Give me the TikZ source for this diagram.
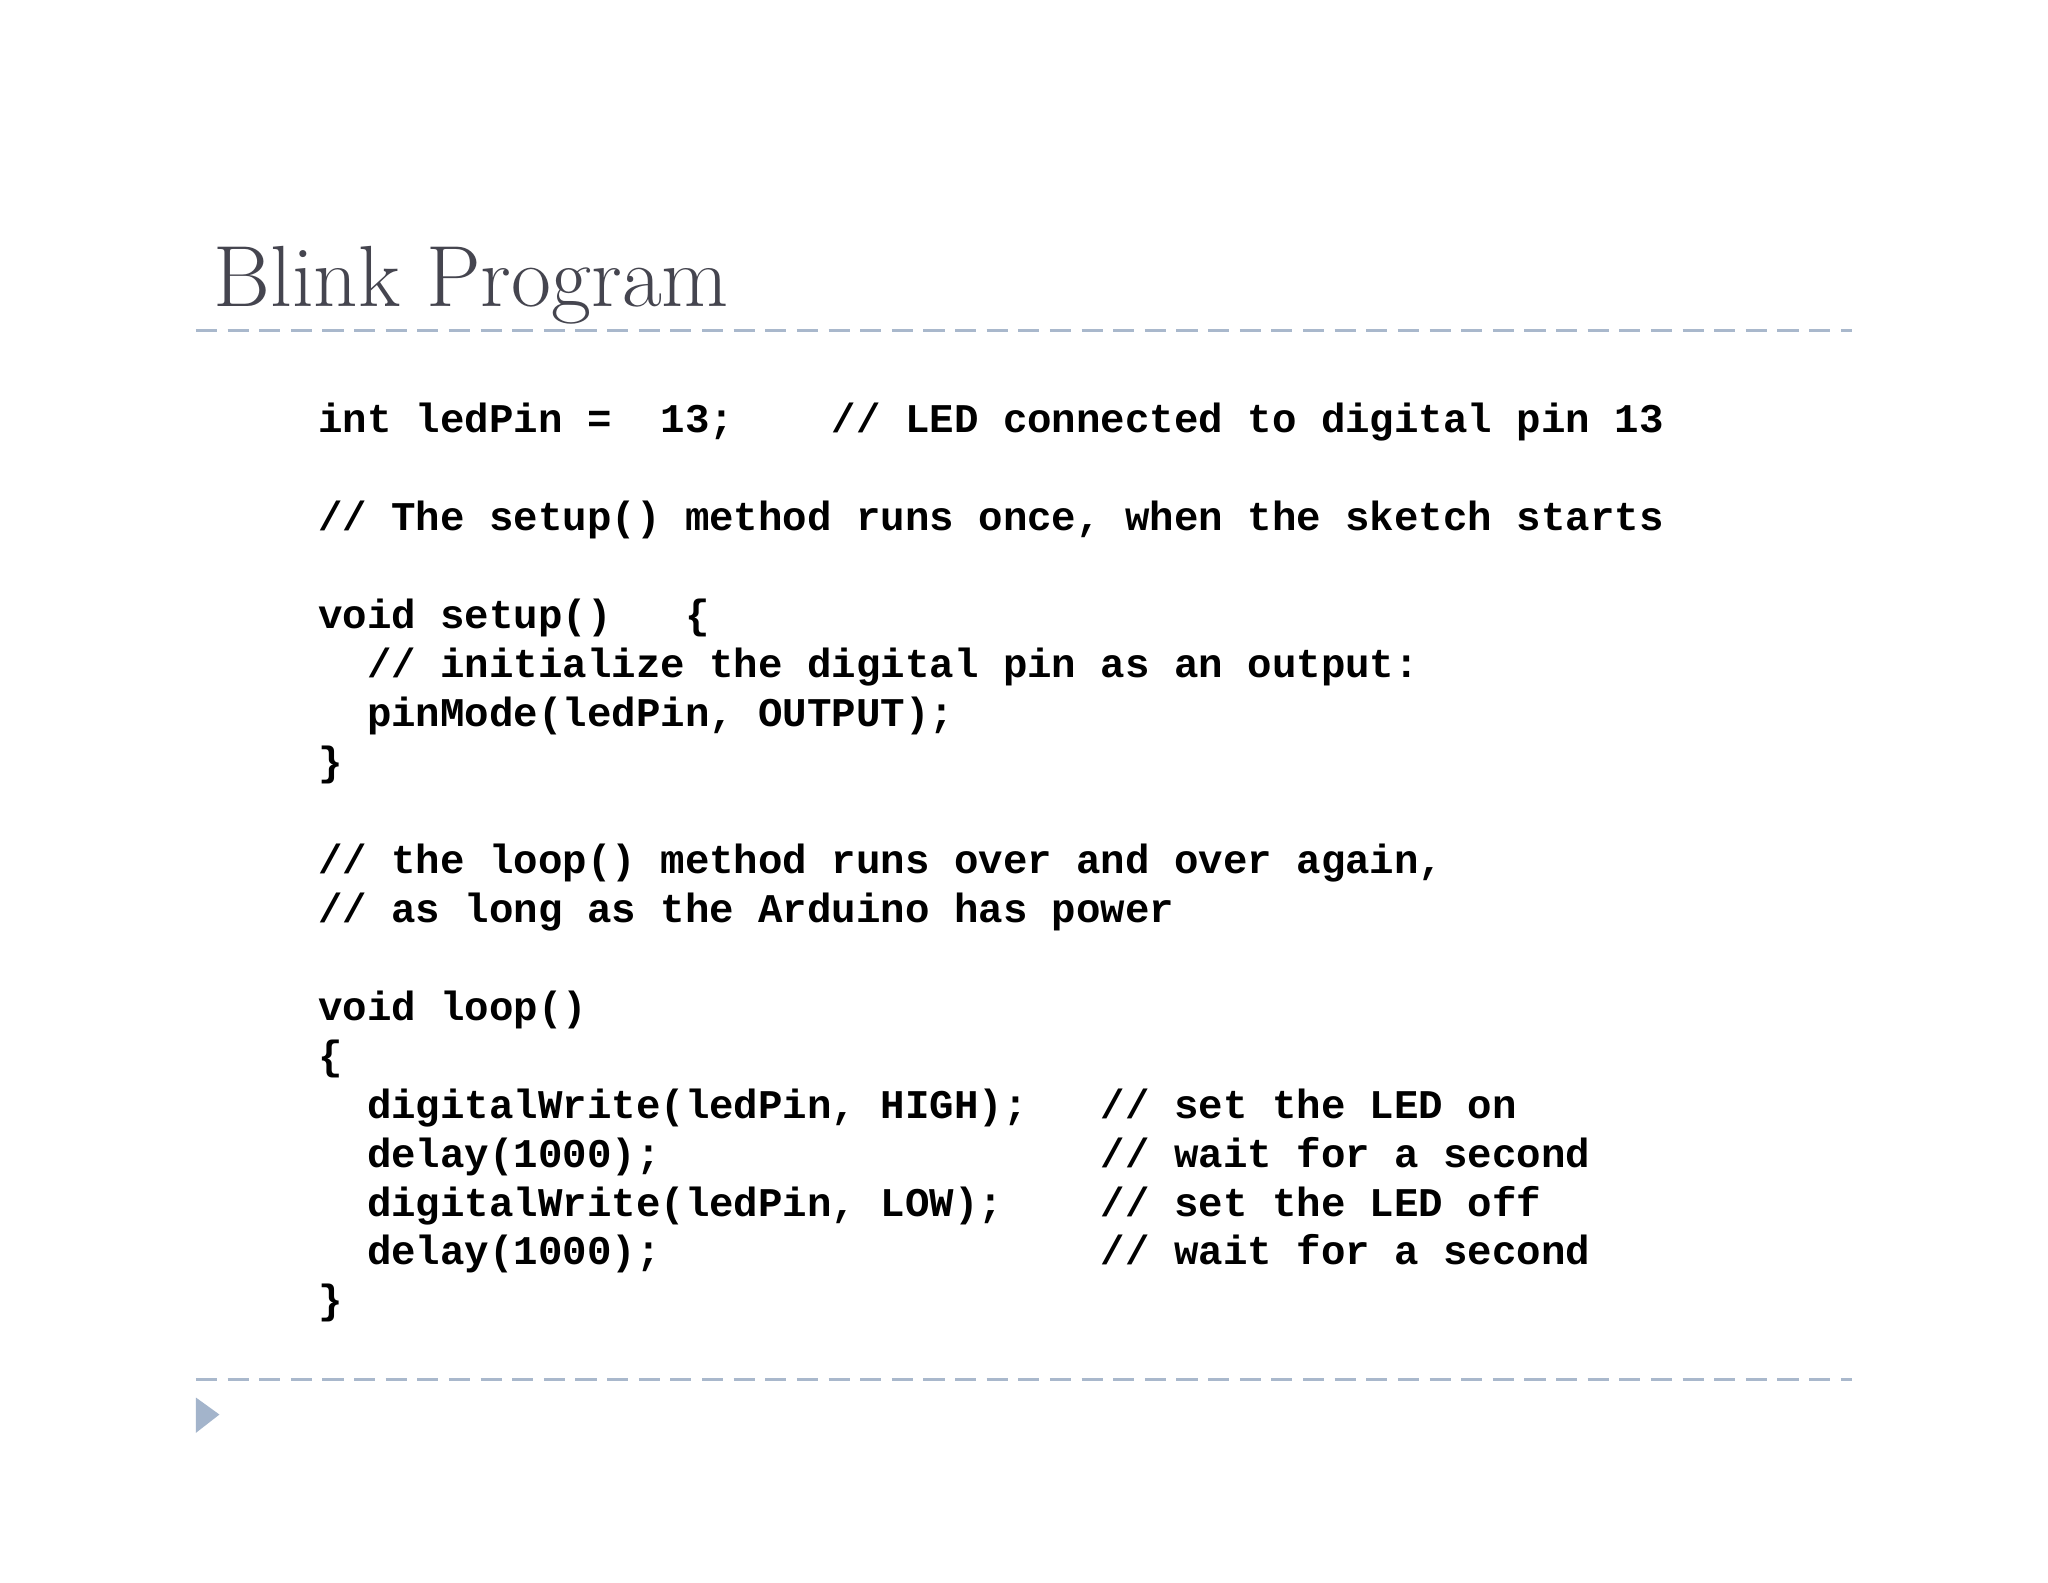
\documentclass[tikz,border=0pt]{standalone}
\usepackage{fontspec}
\usepackage{tikz}
\newfontfamily\codefont{Liberation Mono}
\definecolor{titlegrey}{HTML}{45454F}
\definecolor{rule}{HTML}{A9B8CC}
\definecolor{bullet}{HTML}{A3B4CB}
\tikzset{
  codeline/.style={anchor=base west, inner sep=0pt, font=\codefont\bfseries\fontsize{11.6}{12}\selectfont},
  rulerline/.style={rule, dashed, dash pattern=on 6pt off 3pt, line width=0.8pt}
}
\begin{document}
\begin{tikzpicture}[x=0.01306cm, y=-0.01306cm]
% page frame
\useasboundingbox (0,0) rectangle (1568,1211.3);
\fill[white] (0,0) rectangle (1568,1211.3);

% title and rules
\node[anchor=base west, inner sep=0pt, text=titlegrey, font=\fontsize{24.7}{28}\selectfont] (title) at (163,235) {Blink Program};
\coordinate (topL) at (150,253);
\coordinate (topR) at (1418,253);
\coordinate (botL) at (150,1056);
\coordinate (botR) at (1418,1056);
\draw[rulerline] (topL) -- (topR);
\draw[rulerline] (botL) -- (botR);

% code lines
\foreach \i/\t in {0/{int ledPin =~~13;~~~~// LED connected to digital pin 13},
                   2/{// The setup() method runs once, when the sketch starts},
                   4/{void setup()~~~\{},
                   5/{~~// initialize the digital pin as an output:},
                   6/{~~pinMode(ledPin, OUTPUT);},
                   7/{\}},
                   9/{// the loop() method runs over and over again,},
                   10/{// as long as the Arduino has power},
                   12/{void loop()},
                   13/{\{},
                   14/{~~digitalWrite(ledPin, HIGH);~~~// set the LED on},
                   15/{~~delay(1000);~~~~~~~~~~~~~~~~~~// wait for a second},
                   16/{~~digitalWrite(ledPin, LOW);~~~~// set the LED off},
                   17/{~~delay(1000);~~~~~~~~~~~~~~~~~~// wait for a second},
                   18/{\}}}
  \node[codeline] (line\i) at (243,{331+37.5*\i}) {\t};

% bullet
\coordinate (b1) at (150,1070);
\coordinate (b2) at (168,1083);
\coordinate (b3) at (150,1097);
\fill[bullet] (b1) -- (b2) -- (b3) -- cycle;
\end{tikzpicture}
\end{document}
